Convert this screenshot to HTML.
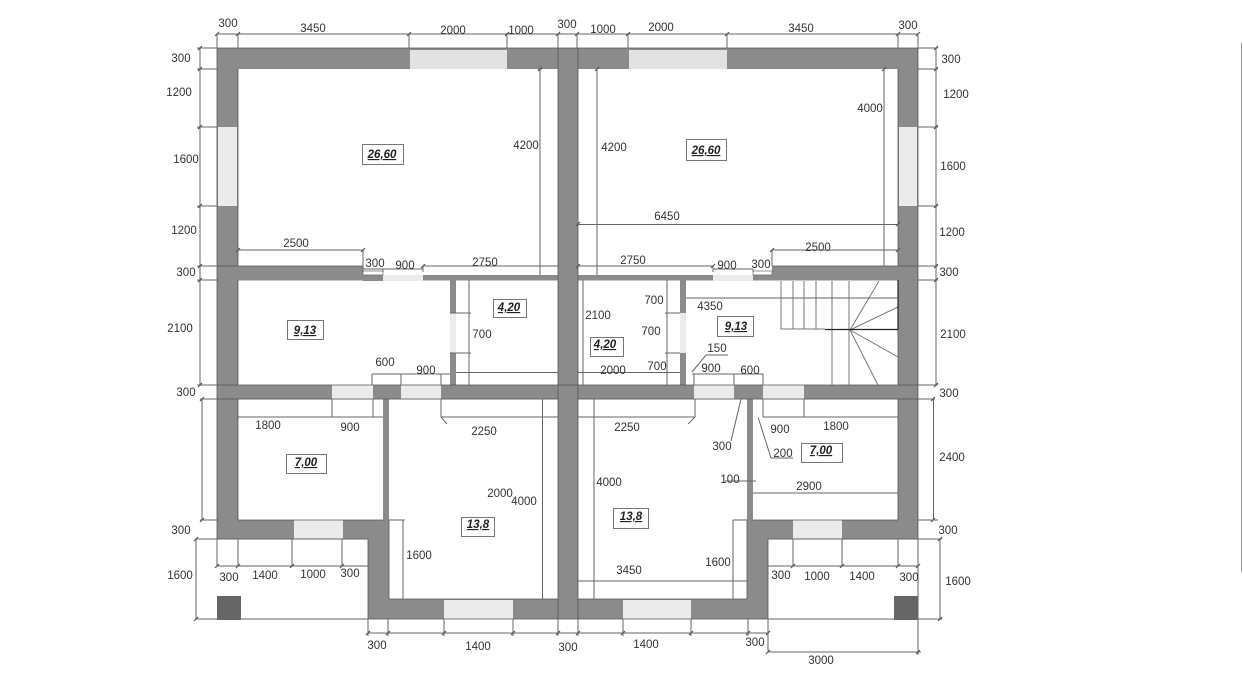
<!DOCTYPE html>
<html><head><meta charset="utf-8"><style>
html,body{margin:0;padding:0;background:#fff;width:1243px;height:700px;overflow:hidden}
svg{display:block;filter:blur(.35px)}
text{font-family:"Liberation Sans",sans-serif;font-size:11.5px;fill:#333;text-anchor:middle}
.a{font-weight:bold;font-style:italic;text-decoration:underline;fill:#222}
.w{fill:#8b8b8b}.g{fill:#ebebeb}
.d{stroke:#666;stroke-width:1;fill:none}
.b{fill:#fff;stroke:#777;stroke-width:1}
</style></head><body>
<svg width="1243" height="700" viewBox="0 0 1243 700" xmlns="http://www.w3.org/2000/svg">
<!-- walls -->
<g class="w">
<rect x="217" y="48" width="701" height="21"/>
<rect x="217" y="48" width="21" height="491"/>
<rect x="898" y="48" width="20" height="491"/>
<rect x="558" y="48" width="20" height="571"/>
<rect x="217" y="266" width="146" height="14.500"/>
<rect x="363" y="275" width="350" height="5.500"/>
<rect x="713" y="275" width="60" height="5.500"/>
<rect x="772" y="266" width="146" height="14.500"/>
<rect x="217" y="385" width="701" height="14.300"/>
<rect x="450" y="280" width="6" height="105"/>
<rect x="680" y="280" width="6" height="105"/>
<rect x="383" y="399" width="6" height="121"/>
<rect x="747" y="399" width="6" height="121"/>
<rect x="217" y="520" width="172" height="19"/>
<rect x="747" y="520" width="171" height="19"/>
<rect x="368" y="520" width="21" height="99"/>
<rect x="747" y="520" width="21" height="99"/>
<rect x="368" y="599" width="400" height="20"/>
</g>
<!-- openings -->
<g class="g">
<rect x="410" y="50" width="97" height="19" fill="#e2e2e2" style="fill:#e2e2e2"/>
<rect x="629" y="50" width="98" height="19" style="fill:#e2e2e2"/>
<rect x="218" y="127" width="19" height="79"/>
<rect x="899" y="127" width="18" height="79"/>
<rect x="363" y="275" width="20" height="6" style="fill:#8b8b8b"/>
<rect x="383" y="275" width="40" height="6"/>
<rect x="713" y="275" width="40" height="6"/>
<rect x="332" y="385" width="41" height="14"/>
<rect x="401" y="385" width="40" height="14"/>
<rect x="694" y="385" width="40" height="14"/>
<rect x="763" y="385" width="41" height="14"/>
<rect x="450" y="313" width="6" height="40"/>
<rect x="680" y="313" width="6" height="40"/>
<rect x="294" y="520" width="49" height="19"/>
<rect x="793" y="520" width="49" height="19"/>
<rect x="444" y="600" width="69" height="19"/>
<rect x="623" y="600" width="68" height="19"/>
</g>
<!-- chimneys -->
<rect x="217" y="596" width="24" height="24" fill="#666"/>
<rect x="894" y="596" width="24" height="24" fill="#666"/>
<rect x="363" y="271" width="20" height="4" fill="#fff" stroke="#666" stroke-width=".7"/>
<rect x="753" y="271" width="19" height="4" fill="#fff" stroke="#666" stroke-width=".7"/>
<!-- dark wall edges -->
<path d="M217 48H918M217 48V539M918 48V539M238 69V266M898 69V266M558 48V619M578 48V619M217 266H363M772 266H918M217 385H918M238 399V520M898 399V520M217 399H558M578 399H918M238 280V385M898 280V385M238 520H383M753 520H898M217 539H368V619M918 539H768V619M389 520V599M747 520V599M389 599H558M578 599H747M368 619H768" stroke="#555" stroke-width=".8" fill="none"/>
<!-- stairs -->
<path d="M781 281V329H825M793 281V329M804 281V329M816 281V329M832 281V385M849 281V385M850 330L879 281M850 330L898 307M850 330L898 357M850 330L878 385" stroke="#777" stroke-width="1" fill="none"/>
<path d="M825 329.500H898V280" stroke="#222" stroke-width="1.200" fill="none"/>
<!-- dimensions -->
<path class="d" d="M217 34H918M217 34V48M238 34V48M409 34V48M507 34V48M558 34V48M577 34V48M628 34V48M727 34V48M898 34V48M918 34V48
M200 48V385M197 48H217M197 69H217M197 127H217M197 206H217M197 266H217M197 280H217M197 385H217
M202 399V520M200 399H217M200 520H217
M196 539V619M196 539H368M196 619H368M217 539V566M238 539V566M292 539V566M342 539V566M217 566H368
M936 48V385M918 48H938M918 69H938M918 127H938M918 206H938M918 266H938M918 280H938M918 385H938
M933.500 399V520M918 399H935M918 520H938M733 520H747
M940 539V619M768 539H942M768 619H942M768 566H918M793 539V566M842 539V566M898 539V566M918 539V655M768 619V652M768 652H921
M368 633H768M368 619V636M388 619V636M444 619V636M513 619V636M558 619V636M578 619V636M623 619V636M691 619V636M748 619V636M768 619V636
M540 69V275M538 69H542M238 250H363M363 250V272
M363 269H423M423 266H558M423 266V272M383 269V272
M597 69V275M884 69V266M578 224.500H898M772 250H898M772 250V266M578 266H713M713 266V272M713 269H753M753 269V272
M456 372.500H558M469 280V385M450 313H471M450 353H471M372 374H450M372 374V385M401 374V385M441 374V385
M238 417H383M332 399V417M373 399V417M441 417H558M441 399V417M441 417L447 424
M542.500 399V599M403 520V599M389 520H405
M578 372.500H680M667 280V385M583 280V385M665 313H680M665 353H680M686 298H898
M692 372L706 355H728M692 374H763M694 374V385M734 374V385M763 374V385
M578 417H695M695 399V417M695 417L688 424M594 399V599M578 581H748M733 520V599
M741 399L731 441M758 417L771 458H793M763 417H898M763 399V417M804 399V417
M725 481H756M753 493H898"/>
<!-- ticks -->
<path stroke="#555" stroke-width="1.200" fill="none" d="M215 36l4-4M236 36l4-4M407 36l4-4M505 36l4-4M556 36l4-4M575 36l4-4M626 36l4-4M725 36l4-4M896 36l4-4M916 36l4-4
M198 50l4-4M198 71l4-4M198 129l4-4M198 208l4-4M198 268l4-4M198 282l4-4M198 387l4-4M200 401l4-4M200 522l4-4M194 541l4-4M194 621l4-4
M934 50l4-4M934 71l4-4M934 129l4-4M934 208l4-4M934 268l4-4M934 282l4-4M934 387l4-4M931 401l4-4M931 522l4-4M938 541l4-4M938 621l4-4
M366 635l4-4M386 635l4-4M442 635l4-4M511 635l4-4M556 635l4-4M576 635l4-4M621 635l4-4M689 635l4-4M746 635l4-4M766 635l4-4M766 654l4-4M916 654l4-4
M215 568l4-4M236 568l4-4M290 568l4-4M340 568l4-4M791 568l4-4M840 568l4-4M896 568l4-4M916 568l4-4
M236 252l4-4M361 252l4-4M421 268l4-4M576 226l4-4M896 226l4-4M770 252l4-4M896 252l4-4M576 268l4-4M711 268l4-4M538 71l4-4M595 71l4-4M882 71l4-4"/>
<!-- area boxes -->
<rect class="b" x="362.500" y="144.500" width="41" height="20"/>
<rect class="b" x="686.500" y="139.500" width="40" height="21"/>
<rect class="b" x="287.500" y="320.500" width="36" height="19"/>
<rect class="b" x="493.500" y="299.500" width="33" height="18"/>
<rect class="b" x="286.500" y="454.500" width="40" height="19"/>
<rect class="b" x="461.500" y="517.500" width="33" height="19"/>
<rect class="b" x="717.500" y="316.500" width="36" height="20"/>
<rect class="b" x="590.500" y="337.500" width="33" height="19"/>
<rect class="b" x="801.500" y="443.500" width="41" height="19"/>
<rect class="b" x="613.500" y="508.500" width="35" height="20"/>
<text class="a" x="382" y="158">26,60</text>
<text class="a" x="706" y="154">26,60</text>
<text class="a" x="305" y="334">9,13</text>
<text class="a" x="509" y="311">4,20</text>
<text class="a" x="306" y="466">7,00</text>
<text class="a" x="478" y="528">13,8</text>
<text class="a" x="736" y="330">9,13</text>
<text class="a" x="605" y="348">4,20</text>
<text class="a" x="821" y="454">7,00</text>
<text class="a" x="631" y="520">13,8</text>
<!-- top labels -->
<text x="228" y="27">300</text><text x="313" y="32">3450</text><text x="453" y="34">2000</text><text x="521" y="34">1000</text><text x="567" y="28">300</text><text x="603" y="33">1000</text><text x="661" y="31">2000</text><text x="801" y="32">3450</text><text x="908" y="29">300</text>
<!-- left -->
<text x="181" y="62">300</text><text x="179" y="96">1200</text><text x="186" y="163">1600</text><text x="184" y="234">1200</text><text x="186" y="276">300</text><text x="180" y="332">2100</text><text x="186" y="396">300</text><text x="181" y="534">300</text><text x="180" y="579">1600</text>
<!-- right -->
<text x="951" y="63">300</text><text x="956" y="98">1200</text><text x="953" y="170">1600</text><text x="952" y="236">1200</text><text x="949" y="276">300</text><text x="953" y="338">2100</text><text x="949" y="397">300</text><text x="952" y="461">2400</text><text x="948" y="534">300</text><text x="958" y="585">1600</text>
<!-- bottom -->
<text x="377" y="649">300</text><text x="478" y="650">1400</text><text x="568" y="651">300</text><text x="646" y="648">1400</text><text x="755" y="646">300</text><text x="821" y="664">3000</text>
<text x="229" y="581">300</text><text x="265" y="579">1400</text><text x="313" y="578">1000</text><text x="350" y="577">300</text><text x="781" y="579">300</text><text x="817" y="580">1000</text><text x="862" y="580">1400</text><text x="909" y="581">300</text>
<!-- interior left -->
<text x="526" y="149">4200</text><text x="296" y="247">2500</text><text x="375" y="267">300</text><text x="405" y="269">900</text><text x="485" y="266">2750</text><text x="482" y="338">700</text><text x="385" y="366">600</text><text x="426" y="374">900</text><text x="268" y="429">1800</text><text x="350" y="431">900</text><text x="484" y="435">2250</text><text x="500" y="497">2000</text><text x="524" y="505">4000</text><text x="419" y="559">1600</text>
<!-- interior right -->
<text x="614" y="151">4200</text><text x="870" y="112">4000</text><text x="667" y="220">6450</text><text x="633" y="264">2750</text><text x="727" y="269">900</text><text x="761" y="268">300</text><text x="818" y="251">2500</text>
<text x="654" y="304">700</text><text x="710" y="310">4350</text><text x="598" y="319">2100</text><text x="651" y="335">700</text><text x="717" y="352">150</text><text x="613" y="374">2000</text><text x="657" y="370">700</text><text x="711" y="372">900</text><text x="750" y="374">600</text><text x="627" y="431">2250</text><text x="780" y="433">900</text><text x="836" y="430">1800</text><text x="722" y="450">300</text><text x="783" y="457">200</text><text x="730" y="483">100</text><text x="809" y="490">2900</text><text x="609" y="486">4000</text><text x="629" y="574">3450</text><text x="718" y="566">1600</text>
<!-- page edge line -->
<line x1="1241.500" y1="43" x2="1241.500" y2="572" stroke="#999" stroke-width="1"/>
</svg>
</body></html>
